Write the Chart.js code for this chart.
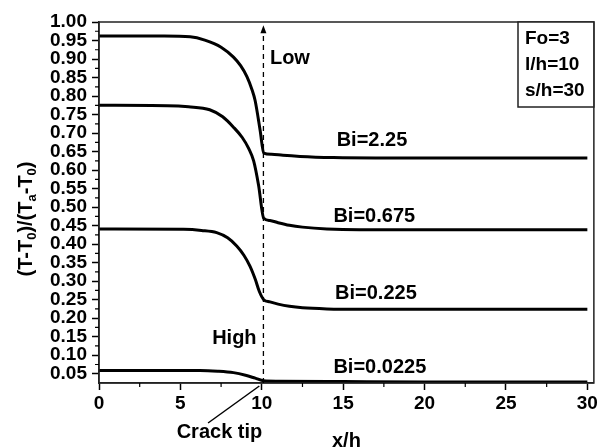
<!DOCTYPE html>
<html>
<head>
<meta charset="utf-8">
<script src="https://cdn.jsdelivr.net/npm/chart.js@4.4.1/dist/chart.umd.min.js"></script>
<style>
  html, body { margin: 0; padding: 0; background: #fff; }
  #wrap { width: 600px; height: 448px; }
</style>
</head>
<body>
<div id="wrap"><canvas id="chart" width="600" height="448"></canvas></div>
<script>
// curves: x/h positions and (T-T0)/(Ta-T0) values
var xBi225 = [0, 4, 5.6, 6.5, 7.5, 8.26, 8.7, 9.08, 9.4, 9.59, 9.9, 10.12, 10.6, 11.3, 12.35, 14.4, 17, 20, 25, 30];
var yBi225 = [0.962, 0.962, 0.960, 0.951, 0.932, 0.905, 0.882, 0.853, 0.817, 0.788, 0.707, 0.646, 0.643, 0.640, 0.637, 0.634, 0.633, 0.633, 0.633, 0.633];

var xBi0675 = [0, 4.2, 5.5, 6.8, 7.6, 8.26, 8.8, 9.2, 9.5, 9.8, 10.12, 10.5, 11, 11.7, 12.5, 14, 16, 20, 25, 30];
var yBi0675 = [0.775, 0.774, 0.771, 0.763, 0.744, 0.716, 0.688, 0.658, 0.625, 0.560, 0.470, 0.464, 0.458, 0.451, 0.446, 0.441, 0.439, 0.439, 0.439, 0.439];

var xBi0225 = [0, 5.2, 6.3, 7.23, 7.9, 8.46, 8.9, 9.28, 9.6, 9.85, 10.12, 10.5, 11, 11.7, 12.5, 14, 16, 20, 25, 30];
var yBi0225 = [0.441, 0.440, 0.437, 0.431, 0.417, 0.395, 0.370, 0.340, 0.305, 0.272, 0.250, 0.244, 0.238, 0.232, 0.228, 0.225, 0.224, 0.224, 0.224, 0.224];

var xBi00225 = [0, 6.2, 7.3, 8.26, 9.0, 9.6, 10.12, 11, 15, 20, 25, 30];
var yBi00225 = [0.059, 0.059, 0.057, 0.053, 0.046, 0.038, 0.031, 0.030, 0.029, 0.028, 0.028, 0.028];

var curveLabels = ['Bi=2.25', 'Bi=0.675', 'Bi=0.225', 'Bi=0.0225'];
var labelX = [14.6, 14.4, 14.5, 14.4];
var labelY = [0.680, 0.474, 0.268, 0.068];

var xTicks = [0, 5, 10, 15, 20, 25, 30];
var xMinor = [2.5, 7.5, 12.5, 17.5, 22.5, 27.5];
var yTicks = [0.05, 0.10, 0.15, 0.20, 0.25, 0.30, 0.35, 0.40, 0.45, 0.50, 0.55, 0.60, 0.65, 0.70, 0.75, 0.80, 0.85, 0.90, 0.95, 1.00];
var yMinor = [0.075, 0.125, 0.175, 0.225, 0.275, 0.325, 0.375, 0.425, 0.475, 0.525, 0.575, 0.625, 0.675, 0.725, 0.775, 0.825, 0.875, 0.925, 0.975];

var crackX = 10.1;
var paramText = ['Fo=3', 'l/h=10', 's/h=30'];

var FONT = '"Liberation Sans", Arial, sans-serif';

function pts(xs, ys) {
  var out = [];
  for (var i = 0; i < xs.length; i++) out.push({ x: xs[i], y: ys[i] });
  return out;
}

function line(data) {
  return { data: data, borderColor: '#000', borderWidth: 3, pointRadius: 0, fill: false, cubicInterpolationMode: 'monotone' };
}

// frame, minor ticks, crack line and all the text annotations
var extras = {
  id: 'extras',
  afterDraw: function (chart) {
    var ctx = chart.ctx;
    var a = chart.chartArea;
    var sx = chart.scales.x, sy = chart.scales.y;
    ctx.save();

    ctx.strokeStyle = '#222';
    ctx.lineWidth = 1.5;
    ctx.strokeRect(a.left, a.top, a.right - a.left, a.bottom - a.top);

    // minor ticks
    ctx.strokeStyle = '#000';
    ctx.lineWidth = 1.2;
    ctx.beginPath();
    xMinor.forEach(function (v) {
      var px = sx.getPixelForValue(v);
      ctx.moveTo(px, a.bottom); ctx.lineTo(px, a.bottom + 4);
    });
    yMinor.forEach(function (v) {
      var py = sy.getPixelForValue(v);
      ctx.moveTo(a.left, py); ctx.lineTo(a.left - 4, py);
    });
    ctx.stroke();

    // dashed crack tip line with arrow
    var cx = sx.getPixelForValue(crackX);
    var topY = sy.getPixelForValue(0.986);
    ctx.setLineDash([5, 4]);
    ctx.lineWidth = 1.3;
    ctx.beginPath();
    ctx.moveTo(cx, a.bottom);
    ctx.lineTo(cx, topY + 5);
    ctx.stroke();
    ctx.setLineDash([]);
    ctx.fillStyle = '#000';
    ctx.beginPath();
    ctx.moveTo(cx, topY - 2);
    ctx.lineTo(cx - 3, topY + 6);
    ctx.lineTo(cx + 3, topY + 6);
    ctx.closePath();
    ctx.fill();

    // curve labels
    ctx.font = 'bold 20px ' + FONT;
    ctx.textAlign = 'left';
    ctx.textBaseline = 'middle';
    for (var i = 0; i < curveLabels.length; i++) {
      ctx.fillText(curveLabels[i], sx.getPixelForValue(labelX[i]), sy.getPixelForValue(labelY[i]));
    }
    ctx.fillText('Low', sx.getPixelForValue(10.5), sy.getPixelForValue(0.902));
    ctx.fillText('High', sx.getPixelForValue(6.95), sy.getPixelForValue(0.144));

    // crack tip label and leader
    ctx.textAlign = 'center';
    ctx.fillText('Crack tip', sx.getPixelForValue(7.4), a.bottom + 49);
    ctx.lineWidth = 1.5;
    ctx.beginPath();
    ctx.moveTo(sx.getPixelForValue(6.7), a.bottom + 40);
    ctx.lineTo(sx.getPixelForValue(9.85), a.bottom + 3);
    ctx.stroke();

    // x axis title
    ctx.fillText('x/h', (a.left + a.right) / 2, a.bottom + 58);

    // parameter box
    var bx = 518, by = a.top, bw = a.right - bx, bh = 85;
    ctx.fillStyle = '#fff';
    ctx.fillRect(bx, by, bw, bh);
    ctx.strokeStyle = '#222';
    ctx.lineWidth = 1.5;
    ctx.strokeRect(bx, by, bw, bh);
    ctx.fillStyle = '#000';
    ctx.textAlign = 'left';
    ctx.font = 'bold 19px ' + FONT;
    for (var j = 0; j < paramText.length; j++) {
      ctx.fillText(paramText[j], bx + 7, by + 17 + j * 26);
    }

    // y axis title with subscripts
    ctx.translate(25, 219);
    ctx.rotate(-Math.PI / 2);
    var parts = [['(T-T', 0], ['0', 1], [')/(T', 0], ['a', 1], ['-T', 0], ['0', 1], [')', 0]];
    var big = 'bold 20px ' + FONT, small = 'bold 13px ' + FONT;
    var total = 0;
    parts.forEach(function (p) { ctx.font = p[1] ? small : big; total += ctx.measureText(p[0]).width; });
    var xpos = -total / 2;
    ctx.textBaseline = 'alphabetic';
    parts.forEach(function (p) {
      ctx.font = p[1] ? small : big;
      ctx.fillText(p[0], xpos, p[1] ? 11 : 7);
      xpos += ctx.measureText(p[0]).width;
    });

    ctx.restore();
  }
};

new Chart(document.getElementById('chart'), {
  type: 'line',
  data: {
    datasets: [
      line(pts(xBi225, yBi225)),
      line(pts(xBi0675, yBi0675)),
      line(pts(xBi0225, yBi0225)),
      line(pts(xBi00225, yBi00225))
    ]
  },
  options: {
    responsive: false,
    animation: false,
    layout: { padding: { left: 0, right: 6, top: 22, bottom: 0 } },
    plugins: { legend: { display: false }, tooltip: { enabled: false } },
    scales: {
      x: {
        type: 'linear',
        min: 0,
        max: 30.4,
        afterBuildTicks: function (s) { s.ticks = xTicks.map(function (v) { return { value: v }; }); },
        afterFit: function (s) { s.height = 65; },
        border: { color: '#222', width: 1.5 },
        grid: { drawOnChartArea: false, tickLength: 7, tickColor: '#000', tickWidth: 1.5 },
        ticks: {
          color: '#000', padding: 2, maxRotation: 0, autoSkip: false,
          font: { family: FONT, size: 19, weight: 'bold' }
        }
      },
      y: {
        min: 0.025,
        max: 1.0,
        afterBuildTicks: function (s) { s.ticks = yTicks.map(function (v) { return { value: v }; }); },
        afterFit: function (s) { s.width = 99; },
        border: { color: '#222', width: 1.5 },
        grid: { drawOnChartArea: false, tickLength: 7, tickColor: '#000', tickWidth: 1.5 },
        ticks: {
          color: '#000', padding: 5, autoSkip: false,
          font: { family: FONT, size: 19, weight: 'bold' },
          callback: function (v) { return v.toFixed(2); }
        }
      }
    }
  },
  plugins: [extras]
});
</script>
</body>
</html>
